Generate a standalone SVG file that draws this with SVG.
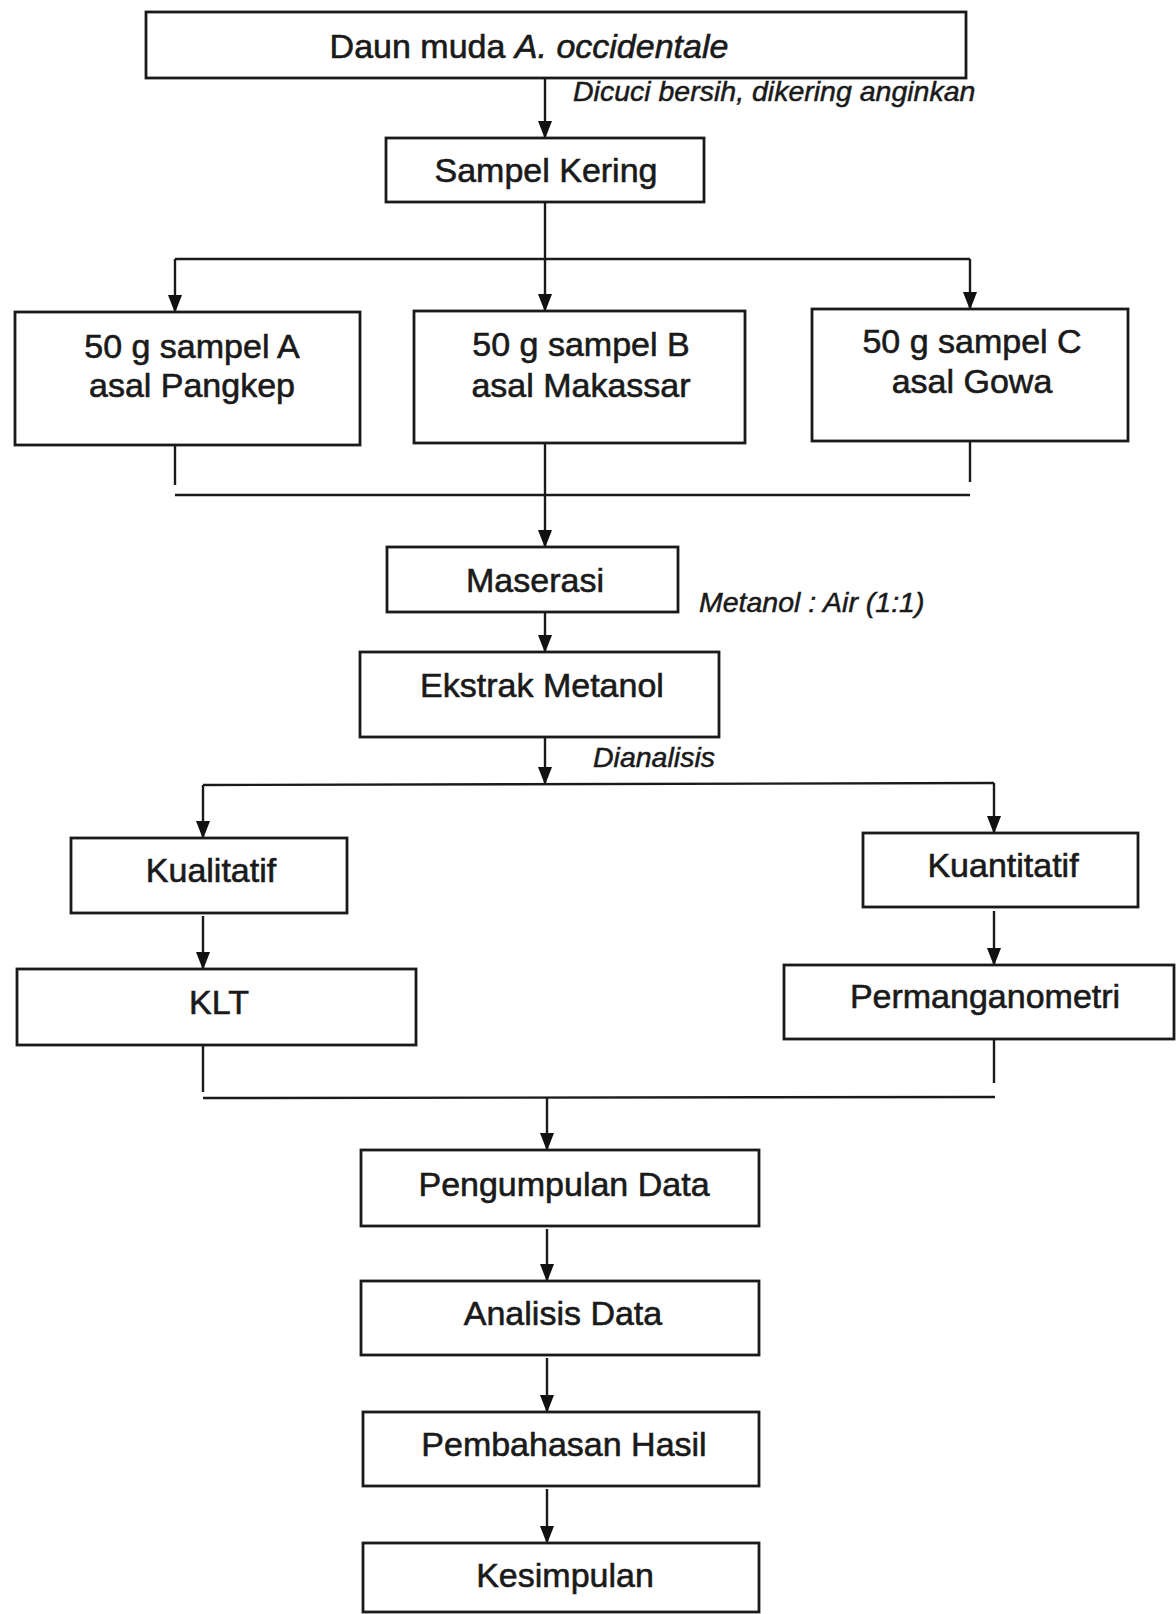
<svg xmlns="http://www.w3.org/2000/svg" width="1176" height="1614" viewBox="0 0 1176 1614">
<defs>
<marker id="arr" markerWidth="18" markerHeight="14" refX="17" refY="7" orient="auto" markerUnits="userSpaceOnUse" viewBox="0 0 18 14">
<path d="M0,0 L18,7 L0,14 Z" fill="#111"/>
</marker>
<style>
.box{fill:#fff;stroke:#1a1a1a;stroke-width:2.8}
.t{font-family:"Liberation Sans",Arial,sans-serif;font-size:34px;fill:#1a1a1a;stroke:#1a1a1a;stroke-width:0.6;text-anchor:middle}
.lbl{font-family:"Liberation Sans",Arial,sans-serif;font-size:28.5px;font-style:italic;fill:#1a1a1a;stroke:#1a1a1a;stroke-width:0.5}
.ln{fill:none;stroke:#1a1a1a;stroke-width:2.4}
.ar{fill:none;stroke:#1a1a1a;stroke-width:2.4;marker-end:url(#arr)}
</style>
</defs>
<rect width="1176" height="1614" fill="#fff"/>

<g id="connectors">
<line class="ar" x1="545" y1="78" x2="545" y2="138"/>
<line class="ln" x1="545" y1="202" x2="545" y2="259"/>
<line class="ln" x1="175" y1="259" x2="970" y2="259"/>
<line class="ar" x1="175" y1="259" x2="175" y2="312"/>
<line class="ar" x1="545" y1="259" x2="545" y2="311"/>
<line class="ar" x1="970" y1="259" x2="970" y2="309"/>
<line class="ln" x1="175" y1="445" x2="175" y2="485"/>
<line class="ln" x1="545" y1="443" x2="545" y2="495"/>
<line class="ln" x1="970" y1="441" x2="970" y2="482"/>
<line class="ln" x1="175" y1="495" x2="970" y2="495"/>
<line class="ar" x1="545" y1="495" x2="545" y2="547"/>
<line class="ar" x1="545" y1="602" x2="545" y2="652"/>
<line class="ar" x1="545" y1="733" x2="545" y2="784"/>
<line class="ln" x1="203" y1="785" x2="994" y2="783"/>
<line class="ar" x1="203" y1="785" x2="203" y2="838"/>
<line class="ar" x1="994" y1="783" x2="994" y2="833"/>
<line class="ar" x1="203" y1="916" x2="203" y2="969"/>
<line class="ar" x1="994" y1="911" x2="994" y2="965"/>
<line class="ln" x1="203" y1="1045" x2="203" y2="1092"/>
<line class="ln" x1="994" y1="1039" x2="994" y2="1083"/>
<line class="ln" x1="203" y1="1098" x2="995" y2="1097"/>
<line class="ar" x1="547" y1="1098" x2="547" y2="1150"/>
<line class="ar" x1="547" y1="1229" x2="547" y2="1281"/>
<line class="ar" x1="547" y1="1358" x2="547" y2="1412"/>
<line class="ar" x1="547" y1="1489" x2="547" y2="1543"/>
<text class="lbl" x="573" y="101">Dicuci bersih, dikering anginkan</text>
<text class="lbl" x="699" y="612">Metanol : Air (1:1)</text>
<text class="lbl" x="593" y="767">Dianalisis</text>
</g>

<g id="n-daun"><rect class="box" x="146" y="12" width="820" height="66"/><text class="t" x="529" y="58">Daun muda <tspan font-style="italic">A. occidentale</tspan></text></g>
<g id="n-sampel"><rect class="box" x="386" y="138" width="318" height="64"/><text class="t" x="546" y="182">Sampel Kering</text></g>
<g id="n-a"><rect class="box" x="15" y="312" width="345" height="133"/><text class="t" x="192" y="358">50 g sampel A</text><text class="t" x="192" y="397">asal Pangkep</text></g>
<g id="n-b"><rect class="box" x="414" y="311" width="331" height="132"/><text class="t" x="581" y="356">50 g sampel B</text><text class="t" x="581" y="397">asal Makassar</text></g>
<g id="n-c"><rect class="box" x="812" y="309" width="316" height="132"/><text class="t" x="972" y="353">50 g sampel C</text><text class="t" x="972" y="393">asal Gowa</text></g>
<g id="n-maserasi"><rect class="box" x="387" y="547" width="291" height="65"/><text class="t" x="535" y="592">Maserasi</text></g>
<g id="n-ekstrak"><rect class="box" x="360" y="652" width="359" height="85"/><text class="t" x="542" y="697">Ekstrak Metanol</text></g>
<g id="n-kualitatif"><rect class="box" x="71" y="838" width="276" height="75"/><text class="t" x="211" y="882">Kualitatif</text></g>
<g id="n-kuantitatif"><rect class="box" x="863" y="833" width="275" height="74"/><text class="t" x="1003" y="877">Kuantitatif</text></g>
<g id="n-klt"><rect class="box" x="17" y="969" width="399" height="76"/><text class="t" x="219" y="1014">KLT</text></g>
<g id="n-perm"><rect class="box" x="784" y="965" width="390" height="74"/><text class="t" x="985" y="1008">Permanganometri</text></g>
<g id="n-pengumpulan"><rect class="box" x="361" y="1150" width="398" height="76"/><text class="t" x="564" y="1196">Pengumpulan Data</text></g>
<g id="n-analisis"><rect class="box" x="361" y="1281" width="398" height="74"/><text class="t" x="563" y="1325">Analisis Data</text></g>
<g id="n-pembahasan"><rect class="box" x="363" y="1412" width="396" height="74"/><text class="t" x="564" y="1456">Pembahasan Hasil</text></g>
<g id="n-kesimpulan"><rect class="box" x="363" y="1543" width="396" height="69"/><text class="t" x="565" y="1587">Kesimpulan</text></g>
</svg>
